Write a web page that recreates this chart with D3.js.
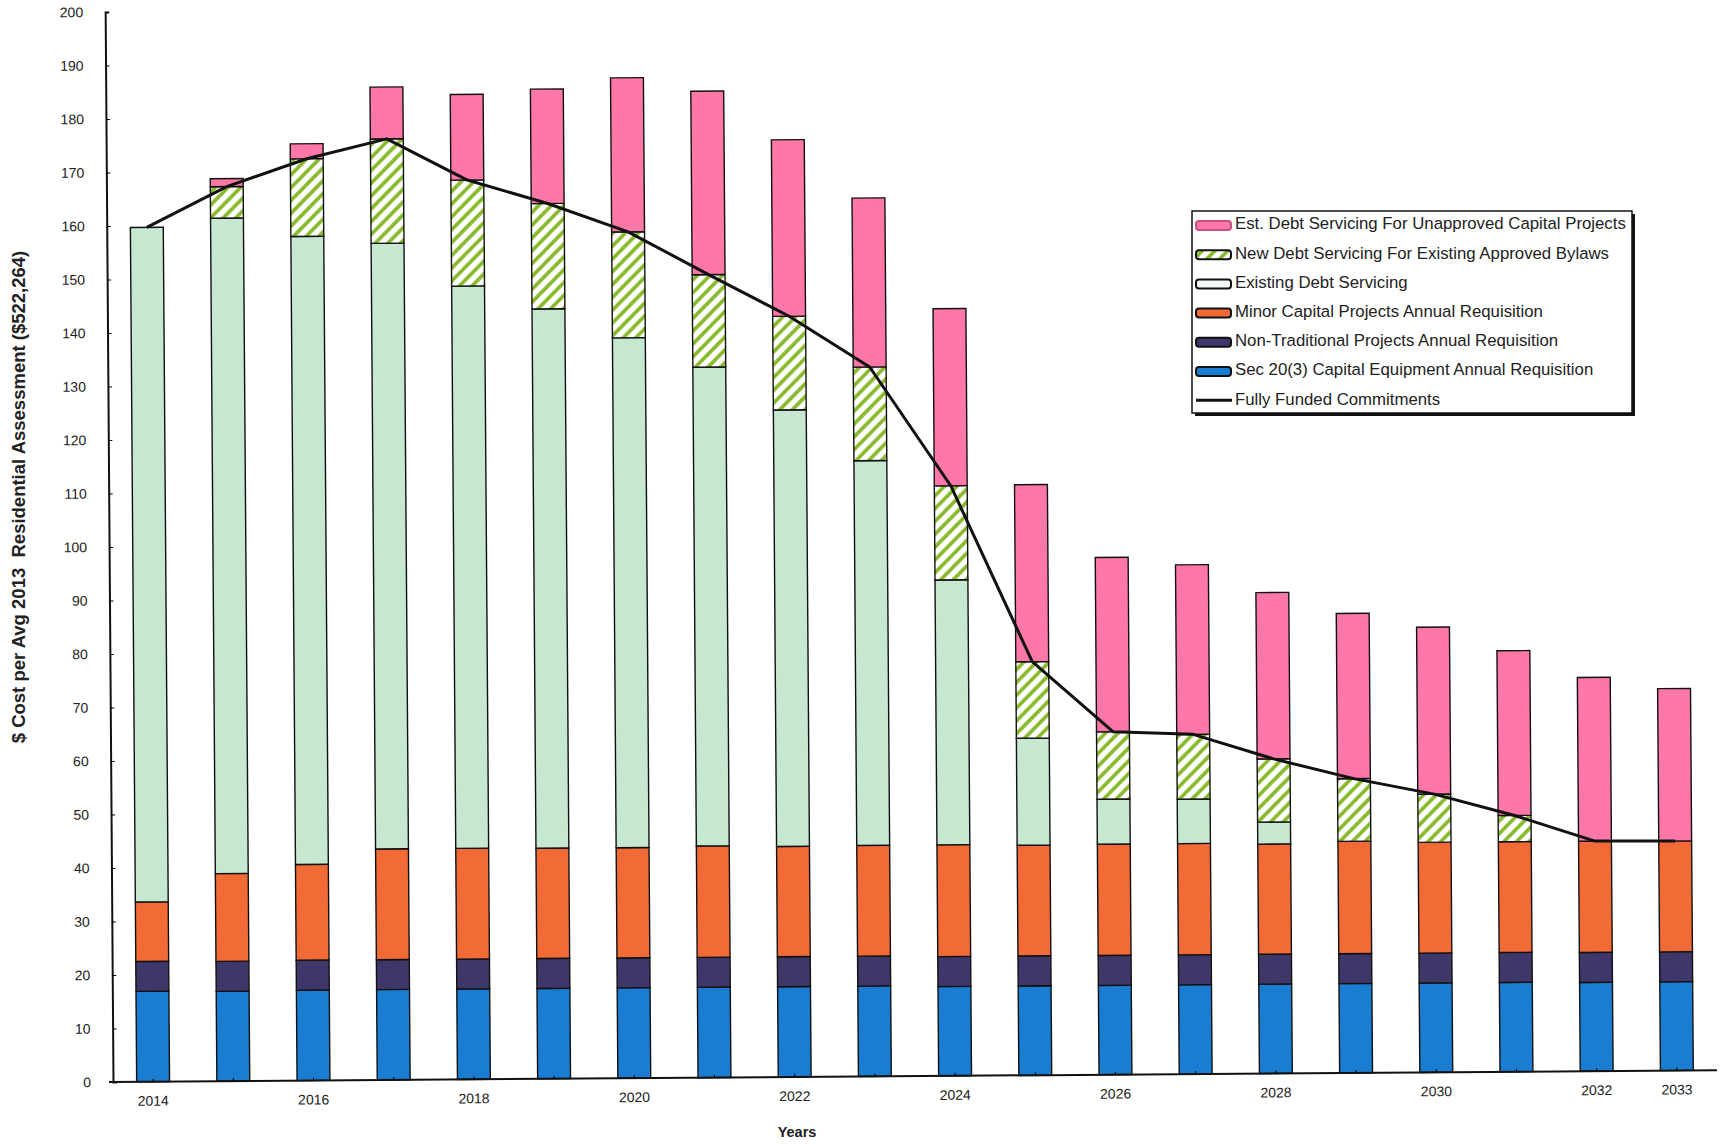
<!DOCTYPE html>
<html>
<head>
<meta charset="utf-8">
<script src="https://cdn.jsdelivr.net/npm/d3@7"></script>
<style>
  body { margin: 0; background: #fff; }
  svg { font-family: "Liberation Sans", Arial, sans-serif; }
</style>
</head>
<body>
<div id="chart"></div>
<script>
const years = [2014, 2015, 2016, 2017, 2018, 2019, 2020, 2021, 2022, 2023,
               2024, 2025, 2026, 2027, 2028, 2029, 2030, 2031, 2032, 2033];
const xTickLabels = [2014, 2016, 2018, 2020, 2022, 2024, 2026, 2028, 2030, 2032, 2033];
const yTicks = d3.range(0, 201, 10);

// stacked series, bottom to top
const secEquipment   = [16.9, 16.8, 16.9, 16.9, 16.9, 16.9, 16.9, 16.9, 16.9, 16.9,
                        16.7, 16.7, 16.7, 16.7, 16.7, 16.7, 16.7, 16.7, 16.6, 16.6];
const nonTraditional = [5.6, 5.6, 5.6, 5.6, 5.6, 5.6, 5.6, 5.6, 5.6, 5.6,
                        5.6, 5.6, 5.6, 5.6, 5.6, 5.6, 5.6, 5.6, 5.6, 5.6];
const minorCapital   = [11.1, 16.4, 17.9, 20.7, 20.7, 20.6, 20.6, 20.8, 20.6, 20.7,
                        20.9, 20.7, 20.8, 20.8, 20.6, 21.0, 20.7, 20.7, 20.8, 20.7];
const existingDebt   = [126.1, 122.5, 117.4, 113.2, 105.1, 100.8, 95.3, 89.5, 81.6, 71.9,
                        49.5, 20.0, 8.4, 8.3, 4.1, 0, 0, 0, 0, 0];
const newDebt        = [0, 5.9, 14.5, 19.5, 19.8, 19.7, 19.8, 17.3, 17.5, 17.5,
                        17.6, 14.3, 12.6, 12.1, 11.8, 11.7, 9.0, 4.9, 0, 0];
const unapprovedDebt = [0, 1.5, 2.8, 9.7, 16.0, 21.4, 28.8, 34.3, 33.0, 31.6,
                        33.1, 33.1, 32.6, 31.7, 31.1, 30.9, 31.2, 30.8, 30.6, 28.5];

const seriesNames = [
  "Sec 20(3) Capital Equipment Annual Requisition",
  "Non-Traditional Projects Annual Requisition",
  "Minor Capital Projects Annual Requisition",
  "Existing Debt Servicing",
  "New Debt Servicing For Existing Approved Bylaws",
  "Est. Debt Servicing For Unapproved Capital Projects"
];
const seriesValues = [secEquipment, nonTraditional, minorCapital, existingDebt, newDebt, unapprovedDebt];
const fills = ["#1b7dd2", "#3e3769", "#f26b37", "#c6e7d0", "url(#hatch)", "#fd78a9"];

const width = 1733, height = 1144;
const margin = { top: 12, left: 113, right: 1717, bottom: 1082 };

const table = years.map((yr, i) => {
  const row = { year: yr };
  seriesNames.forEach((k, j) => row[k] = seriesValues[j][i]);
  return row;
});

const stacked = d3.stack().keys(seriesNames)(table);

const svg = d3.select("#chart").append("svg")
  .attr("width", width)
  .attr("height", height);

const defs = svg.append("defs");
const pat = defs.append("pattern")
  .attr("id", "hatch")
  .attr("patternUnits", "userSpaceOnUse")
  .attr("width", 9)
  .attr("height", 9)
  .attr("patternTransform", "rotate(45)");
pat.append("rect").attr("width", 9).attr("height", 9).attr("fill", "#fff");
pat.append("line")
  .attr("x1", 2).attr("y1", 0).attr("x2", 2).attr("y2", 9)
  .attr("stroke", "#86b826").attr("stroke-width", 3.6);

const x = d3.scaleBand()
  .domain(years)
  .range([margin.left, margin.right])
  .paddingInner(0.59)
  .paddingOuter(0.295);

const y = d3.scaleLinear()
  .domain([0, 200])
  .range([margin.bottom, margin.top]);

// the scanned original sits slightly askew, so the plot is tilted a little
const plot = svg.append("g")
  .attr("transform", `rotate(-0.42, ${margin.left}, ${margin.bottom})`);

// bars
plot.append("g")
  .selectAll("g")
  .data(stacked)
  .join("g")
  .attr("fill", (d, i) => fills[i])
  .selectAll("rect")
  .data(d => d.filter(s => s[1] - s[0] > 0))
  .join("rect")
  .attr("x", d => x(d.data.year))
  .attr("y", d => y(d[1]))
  .attr("width", x.bandwidth())
  .attr("height", d => y(d[0]) - y(d[1]))
  .attr("stroke", "#111")
  .attr("stroke-width", 1.4);

// axes
const yAxis = plot.append("g")
  .attr("transform", `translate(${margin.left},0)`)
  .call(d3.axisLeft(y).tickValues(yTicks).tickSize(-4).tickPadding(22));
yAxis.select(".domain").attr("stroke", "#111").attr("stroke-width", 2);
yAxis.selectAll("text").attr("font-size", 14).attr("fill", "#222");

const xAxis = plot.append("g")
  .attr("transform", `translate(0,${margin.bottom})`)
  .call(d3.axisBottom(x).tickSize(-3).tickPadding(14)
    .tickFormat(d => xTickLabels.includes(d) ? d : ""));
xAxis.select(".domain")
  .attr("d", `M${margin.left - 4},0H${margin.right}`)
  .attr("stroke", "#111").attr("stroke-width", 2);
xAxis.selectAll("text").attr("font-size", 14).attr("fill", "#222");

// fully funded commitments line
const committed = stacked[4].map(d => ({ year: d.data.year, value: d[1] }));
plot.append("path")
  .datum(committed)
  .attr("fill", "none")
  .attr("stroke", "#111")
  .attr("stroke-width", 3)
  .attr("stroke-linejoin", "round")
  .attr("d", d3.line()
    .x(d => x(d.year) + x.bandwidth() / 2)
    .y(d => y(d.value)));

// axis titles
svg.append("text")
  .attr("transform", "translate(20,497) rotate(-90)")
  .attr("text-anchor", "middle")
  .attr("dominant-baseline", "middle")
  .attr("font-size", 18.5)
  .attr("font-weight", "bold")
  .attr("fill", "#222")
  .attr("xml:space", "preserve")
  .text("$ Cost per Avg 2013  Residential Assessment ($522,264)");

svg.append("text")
  .attr("x", 797)
  .attr("y", 1137)
  .attr("text-anchor", "middle")
  .attr("font-size", 14.5)
  .attr("font-weight", "bold")
  .attr("fill", "#222")
  .text("Years");

// legend
const legendItems = [
  { name: seriesNames[5], fill: "#fd78a9", stroke: "#c9507e" },
  { name: seriesNames[4], fill: "url(#hatch)", stroke: "#111" },
  { name: seriesNames[3], fill: "#f2f8f3", stroke: "#111" },
  { name: seriesNames[2], fill: "#f26b37", stroke: "#111" },
  { name: seriesNames[1], fill: "#3e3769", stroke: "#111" },
  { name: seriesNames[0], fill: "#1b7dd2", stroke: "#111" },
  { name: "Fully Funded Commitments", line: true }
];

const legend = svg.append("g").attr("transform", "translate(1192,211)");
legend.append("rect")
  .attr("x", 3).attr("y", 3)
  .attr("width", 440).attr("height", 202)
  .attr("fill", "#111");
legend.append("rect")
  .attr("width", 440).attr("height", 202)
  .attr("fill", "#fff")
  .attr("stroke", "#111")
  .attr("stroke-width", 1.5);

const rows = legend.selectAll("g.row")
  .data(legendItems)
  .join("g")
  .attr("class", "row")
  .attr("transform", (d, i) => `translate(4,${14 + i * 29.2})`);

rows.filter(d => !d.line).append("rect")
  .attr("x", 0).attr("y", -4)
  .attr("width", 35).attr("height", 9)
  .attr("rx", 3)
  .attr("fill", d => d.fill)
  .attr("stroke", d => d.stroke)
  .attr("stroke-width", 2);

rows.filter(d => d.line).append("line")
  .attr("x1", 0).attr("x2", 36)
  .attr("y1", 0).attr("y2", 0)
  .attr("stroke", "#111")
  .attr("stroke-width", 3);

rows.append("text")
  .attr("x", 39)
  .attr("y", 0)
  .attr("dominant-baseline", "middle")
  .attr("font-size", 16.8)
  .attr("fill", "#222")
  .text(d => d.name);
</script>
</body>
</html>
